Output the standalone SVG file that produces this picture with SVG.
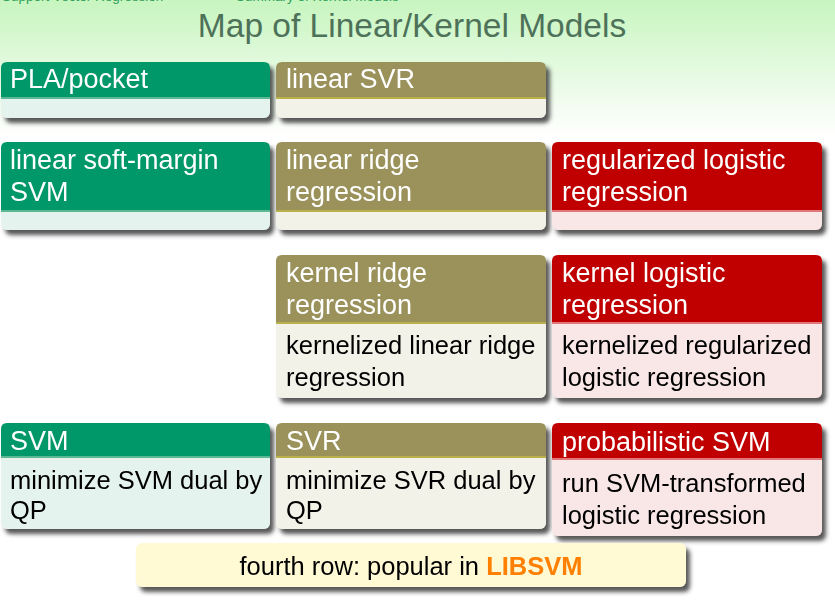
<svg xmlns="http://www.w3.org/2000/svg" width="835" height="600" viewBox="0 0 835 600">
  <defs>
    <linearGradient id="bg" x1="0" y1="0" x2="0" y2="1">
      <stop offset="0" stop-color="#c7f5bf"/>
      <stop offset="1" stop-color="#ffffff"/>
    </linearGradient>
    <filter id="shadow" x="-5%" y="-10%" width="115%" height="130%">
      <feGaussianBlur in="SourceAlpha" stdDeviation="2.2"/>
      <feOffset dx="4" dy="5" result="b"/>
      <feFlood flood-color="#3a3a3a" flood-opacity="0.85"/>
      <feComposite in2="b" operator="in"/>
      <feMerge>
        <feMergeNode/>
        <feMergeNode in="SourceGraphic"/>
      </feMerge>
    </filter>
    <style>
      .hdr { font-family: "Liberation Sans", Arial, sans-serif; font-size: 27px; fill: #ffffff; }
      .txt { font-family: "Liberation Sans", Arial, sans-serif; font-size: 25.5px; fill: #000000; }
      .top { font-family: "Liberation Sans", Arial, sans-serif; font-size: 13.5px; fill: #2f9e5a; }
      .title { font-family: "Liberation Sans", Arial, sans-serif; font-size: 33.5px; fill: #4d7259; }
      .g-h { fill: #009868; } .g-b { fill: #e5f3ee; } .g-s { fill: #5cb894; }
      .o-h { fill: #9a925a; } .o-b { fill: #f3f2e8; } .o-s { fill: #b9b048; }
      .r-h { fill: #c00000; } .r-b { fill: #f9e6e6; } .r-s { fill: #e27474; }
    </style>
  </defs>

  <!-- page background -->
  <rect x="0" y="0" width="835" height="135" fill="url(#bg)"/>
  <rect x="0" y="135" width="835" height="465" fill="#ffffff"/>

  <!-- headline (running header, clipped by the top edge) -->
  <text class="top" x="2" y="1">Support Vector Regression</text>
  <text class="top" x="236" y="1">Summary of Kernel Models</text>
  <text class="title" x="412" y="37" text-anchor="middle">Map of Linear/Kernel Models</text>

  <!-- row 1 -->
  <g id="pla" filter="url(#shadow)">
    <rect class="g-b" x="1" y="62" width="269" height="56" rx="6"/>
    <path class="g-h" d="M1,98 V68 Q1,62 7,62 H264 Q270,62 270,68 V98 Z"/>
    <rect class="g-s" x="1" y="97" width="269" height="2"/>
    <text class="hdr" x="10" y="88">PLA/pocket</text>
  </g>
  <g id="linear-svr" filter="url(#shadow)">
    <rect class="o-b" x="276" y="62" width="270" height="56" rx="6"/>
    <path class="o-h" d="M276,98 V68 Q276,62 282,62 H540 Q546,62 546,68 V98 Z"/>
    <rect class="o-s" x="276" y="97" width="270" height="2"/>
    <text class="hdr" x="286" y="88">linear SVR</text>
  </g>

  <!-- row 2 -->
  <g id="soft-margin-svm" filter="url(#shadow)">
    <rect class="g-b" x="1" y="142" width="269" height="88" rx="6"/>
    <path class="g-h" d="M1,211 V148 Q1,142 7,142 H264 Q270,142 270,148 V211 Z"/>
    <rect class="g-s" x="1" y="210" width="269" height="2"/>
    <text class="hdr" x="10" y="169">linear soft-margin</text>
    <text class="hdr" x="10" y="201">SVM</text>
  </g>
  <g id="linear-ridge" filter="url(#shadow)">
    <rect class="o-b" x="276" y="142" width="270" height="88" rx="6"/>
    <path class="o-h" d="M276,211 V148 Q276,142 282,142 H540 Q546,142 546,148 V211 Z"/>
    <rect class="o-s" x="276" y="210" width="270" height="2"/>
    <text class="hdr" x="286" y="169">linear ridge</text>
    <text class="hdr" x="286" y="201">regression</text>
  </g>
  <g id="reg-logistic" filter="url(#shadow)">
    <rect class="r-b" x="552" y="142" width="270" height="88" rx="6"/>
    <path class="r-h" d="M552,211 V148 Q552,142 558,142 H816 Q822,142 822,148 V211 Z"/>
    <rect class="r-s" x="552" y="210" width="270" height="2"/>
    <text class="hdr" x="562" y="169">regularized logistic</text>
    <text class="hdr" x="562" y="201">regression</text>
  </g>

  <!-- row 3 -->
  <g id="kernel-ridge" filter="url(#shadow)">
    <rect class="o-b" x="276" y="255" width="270" height="143" rx="6"/>
    <path class="o-h" d="M276,323 V261 Q276,255 282,255 H540 Q546,255 546,261 V323 Z"/>
    <rect class="o-s" x="276" y="322" width="270" height="2"/>
    <text class="hdr" x="286" y="282">kernel ridge</text>
    <text class="hdr" x="286" y="314">regression</text>
    <text class="txt" x="286" y="354">kernelized linear ridge</text>
    <text class="txt" x="286" y="386">regression</text>
  </g>
  <g id="kernel-logistic" filter="url(#shadow)">
    <rect class="r-b" x="552" y="255" width="270" height="143" rx="6"/>
    <path class="r-h" d="M552,323 V261 Q552,255 558,255 H816 Q822,255 822,261 V323 Z"/>
    <rect class="r-s" x="552" y="322" width="270" height="2"/>
    <text class="hdr" x="562" y="282">kernel logistic</text>
    <text class="hdr" x="562" y="314">regression</text>
    <text class="txt" x="562" y="354">kernelized regularized</text>
    <text class="txt" x="562" y="386">logistic regression</text>
  </g>

  <!-- row 4 -->
  <g id="svm" filter="url(#shadow)">
    <rect class="g-b" x="1" y="423" width="269" height="106" rx="6"/>
    <path class="g-h" d="M1,457 V429 Q1,423 7,423 H264 Q270,423 270,429 V457 Z"/>
    <rect class="g-s" x="1" y="456" width="269" height="2"/>
    <text class="hdr" x="10" y="450">SVM</text>
    <text class="txt" x="10" y="489">minimize SVM dual by</text>
    <text class="txt" x="10" y="519">QP</text>
  </g>
  <g id="svr" filter="url(#shadow)">
    <rect class="o-b" x="276" y="423" width="270" height="106" rx="6"/>
    <path class="o-h" d="M276,457 V429 Q276,423 282,423 H540 Q546,423 546,429 V457 Z"/>
    <rect class="o-s" x="276" y="456" width="270" height="2"/>
    <text class="hdr" x="286" y="450">SVR</text>
    <text class="txt" x="286" y="489">minimize SVR dual by</text>
    <text class="txt" x="286" y="519">QP</text>
  </g>
  <g id="prob-svm" filter="url(#shadow)">
    <rect class="r-b" x="552" y="423" width="270" height="113" rx="6"/>
    <path class="r-h" d="M552,459 V429 Q552,423 558,423 H816 Q822,423 822,429 V459 Z"/>
    <rect class="r-s" x="552" y="458" width="270" height="2"/>
    <text class="hdr" x="562" y="451">probabilistic SVM</text>
    <text class="txt" x="562" y="492">run SVM-transformed</text>
    <text class="txt" x="562" y="524">logistic regression</text>
  </g>

  <!-- footnote -->
  <g id="note" filter="url(#shadow)">
    <rect x="136" y="543" width="550" height="44" rx="6" fill="#fff9d4"/>
    <text class="txt" x="411" y="575" text-anchor="middle">fourth row: popular in <tspan fill="#ff7f00" font-weight="bold">LIBSVM</tspan></text>
  </g>
</svg>
